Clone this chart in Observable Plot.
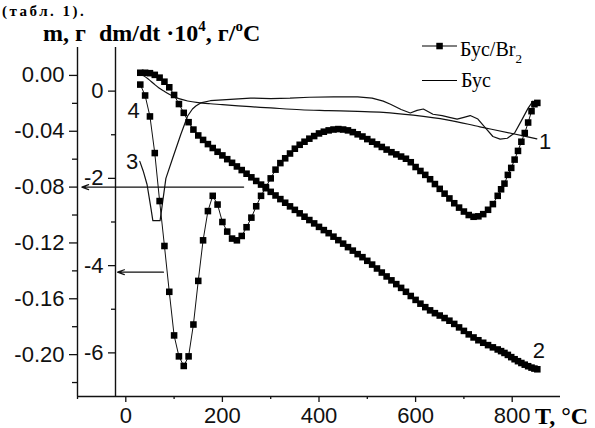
<!DOCTYPE html>
<html><head><meta charset="utf-8">
<script src="https://cdn.jsdelivr.net/npm/d3@7"></script>
<script src="https://cdn.jsdelivr.net/npm/@observablehq/plot@0.6"></script>
<style>
body{margin:0;background:#fff;}
#wrap{position:relative;width:595px;height:428px;overflow:hidden;background:#fff;}
#wrap > svg{position:absolute;left:0;top:0;}
</style></head><body><div id="wrap"></div>
<script>
// Temperature grid (°C) shared by the two Бус/Br2 series (squares)
const T = [30,40,50,60,70,80,90,100,110,120,130,140,150,160,170,180,190,200,210,220,
  230,240,250,260,270,280,290,300,310,320,330,340,350,360,370,380,390,400,410,420,
  430,440,450,460,470,480,490,500,510,520,530,540,550,560,570,580,590,600,610,620,
  630,640,650,660,670,680,690,700,710,720,730,740,750,760,770,
  777,784,791,798,805,812,819,826,833,840,846,852];
// Curve 2: mass m (g), Бус/Br2
const m2 = [0.0019,0.0019,0.0016,0.0004,-0.0016,-0.0045,-0.0085,-0.0140,-0.0205,-0.0268,
  -0.0335,-0.0388,-0.0430,-0.0462,-0.0492,-0.0520,-0.0547,-0.0573,-0.0600,-0.0626,
  -0.0652,-0.0678,-0.0704,-0.0730,-0.0756,-0.0782,-0.0808,-0.0834,-0.0860,-0.0886,
  -0.0912,-0.0938,-0.0963,-0.0988,-0.1012,-0.1036,-0.1060,-0.1085,-0.1108,-0.1130,
  -0.1155,-0.1180,-0.1205,-0.1230,-0.1255,-0.1280,-0.1302,-0.1328,-0.1355,-0.1383,
  -0.1412,-0.1440,-0.1468,-0.1495,-0.1522,-0.1550,-0.1580,-0.1608,-0.1635,-0.1660,
  -0.1683,-0.1703,-0.1720,-0.1738,-0.1757,-0.1780,-0.1805,-0.1830,-0.1855,-0.1877,
  -0.1897,-0.1915,-0.1932,-0.1948,-0.1963,
  -0.1975,-0.1988,-0.2002,-0.2018,-0.2033,-0.2047,-0.2060,-0.2072,-0.2083,-0.2093,-0.2100,-0.2105];
// Curve 4: dm/dt·10^4 (g/°C), Бус/Br2
const d4 = [0.15,-0.10,-0.58,-1.42,-2.52,-3.55,-4.60,-5.60,-6.08,-6.30,
  -6.08,-5.35,-4.35,-3.42,-2.75,-2.40,-2.60,-3.00,-3.22,-3.38,
  -3.42,-3.32,-3.12,-2.90,-2.64,-2.40,-2.20,-2.00,-1.80,-1.65,
  -1.54,-1.43,-1.32,-1.23,-1.16,-1.09,-1.03,-0.97,-0.93,-0.90,
  -0.88,-0.87,-0.88,-0.90,-0.94,-0.99,-1.04,-1.10,-1.16,-1.22,
  -1.28,-1.34,-1.40,-1.45,-1.50,-1.55,-1.63,-1.74,-1.83,-1.92,
  -2.02,-2.13,-2.24,-2.35,-2.46,-2.57,-2.67,-2.76,-2.84,-2.88,
  -2.87,-2.82,-2.72,-2.59,-2.40,
  -2.25,-2.12,-1.92,-1.76,-1.57,-1.37,-1.16,-0.96,-0.72,-0.46,-0.30,-0.27];
// Curve 1: mass m (g), Бус
const T1 = [28,37,48,58,68,79,89,99,110,128,150,175,200,258,300,362,420,480,533,595,665,733,802,851];
const m1 = [0.0012,-0.0002,-0.0030,-0.0060,-0.0088,-0.0112,-0.0133,-0.0152,-0.0166,-0.0183,-0.0195,-0.0203,-0.0209,-0.0224,-0.0233,-0.0246,-0.0252,-0.0258,-0.0265,-0.0285,-0.0318,-0.0368,-0.0418,-0.0454];
// Curve 3: dm/dt·10^4 (g/°C), Бус
const T3 = [29,36,44,52,56,71,83,97,114,128,138,145,155,175,200,258,300,340,380,430,480,510,533,548,570,589,603,616,636,655,670,686,700,713,729,745,760,775,790,805,818,833,843];
const d3v = [-1.61,-1.83,-2.14,-2.68,-2.97,-2.97,-2.00,-1.54,-0.99,-0.57,-0.41,-0.34,-0.27,-0.22,-0.20,-0.16,-0.17,-0.16,-0.14,-0.13,-0.13,-0.16,-0.23,-0.30,-0.42,-0.50,-0.44,-0.41,-0.53,-0.56,-0.60,-0.64,-0.60,-0.56,-0.64,-0.85,-1.04,-1.10,-1.08,-0.96,-0.70,-0.39,-0.23];

// axis ticks
const xTicks = [0,200,400,600,800];
const xMinor = [-100,100,300,500,700];
const mTicks = [0,-0.04,-0.08,-0.12,-0.16,-0.20];
const mMinor = [-0.02,-0.06,-0.10,-0.14,-0.18,-0.22];
const dTicks = [0,-2,-4,-6];
const dMinor = [-1,-3,-5];
const xDomain = [-100, 900];
const mDomain = [-0.23, 0.02];
const dDomain = [-7, 1];

// annotations
const curveLabels = [
  {T: 16, v: -0.0253, s: "4"},
  {T: 13, v: -0.0619, s: "3"},
  {T: 868, v: -0.0476, s: "1"},
  {T: 855, v: -0.1973, s: "2"}
];
const arrowsM = [{x1: 244, x2: -91, v: -0.08}];
const arrowsD = [{x1: 78, x2: -17, v: -4.15}];

// map dm/dt onto the mass axis
const toM = d => mDomain[0] + (d - dDomain[0]) * (mDomain[1] - mDomain[0]) / (dDomain[1] - dDomain[0]);
const fromM = m => dDomain[0] + (m - mDomain[0]) * (dDomain[1] - dDomain[0]) / (mDomain[1] - mDomain[0]);

const s2 = T.map((t, i) => ({T: t, v: m2[i]}));
const s4 = T.map((t, i) => ({T: t, v: toM(d4[i])}));
const s1 = T1.map((t, i) => ({T: t, v: m1[i]}));
const s3 = T3.map((t, i) => ({T: t, v: toM(d3v[i])}));
const arrows = [
  ...arrowsM.map(a => ({x1: a.x1, x2: a.x2, y: a.v})),
  ...arrowsD.map(a => ({x1: a.x1, x2: a.x2, y: toM(a.v)}))
];

const ink = "#111";
const chart = Plot.plot({
  width: 595, height: 428,
  marginLeft: 77, marginRight: 35, marginTop: 47, marginBottom: 32,
  style: {fontFamily: "'Liberation Sans', Arial, sans-serif", fontSize: "22px", color: ink, background: "transparent"},
  x: {domain: xDomain},
  y: {domain: mDomain},
  marks: [
    Plot.axisX({ticks: xTicks, tickSize: 6, tickPadding: 5, fontSize: 22, label: null, tickFormat: d => String(d), strokeWidth: 1.3}),
    Plot.axisX({ticks: xMinor, tickSize: 3, fill: "none", label: null, strokeWidth: 1.3}),
    Plot.axisY({ticks: mTicks, tickSize: 8, tickPadding: 5, fontSize: 22, tickFormat: d => d.toFixed(2), label: null, strokeWidth: 1.3}),
    Plot.axisY({ticks: mMinor, tickSize: 5, fill: "none", label: null, strokeWidth: 1.3}),
    Plot.axisY({ticks: dTicks.map(toM), dx: 38, tickSize: 7, tickPadding: 5, fontSize: 22, tickFormat: v => String(Math.round(fromM(v))), label: null, strokeWidth: 1.3}),
    Plot.axisY({ticks: dMinor.map(toM), dx: 38, tickSize: 4, fill: "none", label: null, strokeWidth: 1.3}),
    Plot.ruleX([xDomain[0]], {stroke: ink, strokeWidth: 1.4}),
    Plot.ruleX([xDomain[0]], {dx: 38, stroke: ink, strokeWidth: 1.4}),
    Plot.ruleY([mDomain[0]], {stroke: ink, strokeWidth: 1.4}),
    Plot.line(s1, {x: "T", y: "v", stroke: ink, strokeWidth: 1.2, curve: "catmull-rom"}),
    Plot.line(s3, {x: "T", y: "v", stroke: ink, strokeWidth: 1.2}),
    Plot.line(s2, {x: "T", y: "v", stroke: ink, strokeWidth: 1}),
    Plot.line(s4, {x: "T", y: "v", stroke: ink, strokeWidth: 1}),
    Plot.dot(s2, {x: "T", y: "v", symbol: "square", r: 3.7, fill: "#000", stroke: null}),
    Plot.dot(s4, {x: "T", y: "v", symbol: "square", r: 3.7, fill: "#000", stroke: null}),
    Plot.arrow(arrows, {x1: "x1", x2: "x2", y1: "y", y2: "y", stroke: ink, strokeWidth: 1.2, headLength: 9, headAngle: 40}),
    Plot.text(curveLabels, {x: "T", y: "v", text: "s", fontSize: 22, fill: ink})
  ]
});
document.getElementById("wrap").appendChild(chart);

// overlay: title, legend and axis name
const ns = "http://www.w3.org/2000/svg";
const ov = document.createElementNS(ns, "svg");
ov.setAttribute("width", 595); ov.setAttribute("height", 428);
ov.style.pointerEvents = "none";
ov.innerHTML = `
<g font-family="'Liberation Serif','Times New Roman',serif" fill="#000">
  <text x="2" y="16" font-size="15" font-weight="bold" letter-spacing="2.5">(табл. 1).</text>
  <text x="43" y="41" font-size="24" font-weight="bold">m, г</text>
  <text x="99" y="41" font-size="24" font-weight="bold">dm/dt ·10<tspan dy="-10" font-size="15">4</tspan><tspan dy="10">, г/</tspan><tspan dy="-10" font-size="15">o</tspan><tspan dy="10">C</tspan></text>
  <line x1="422" x2="457" y1="46" y2="46" stroke="#000" stroke-width="1.2"/>
  <rect x="436.3" y="42.8" width="6.5" height="6.5"/>
  <text x="460" y="56" font-size="20">Бус/Br<tspan dy="7" font-size="13">2</tspan></text>
  <line x1="422" x2="457" y1="80.5" y2="80.5" stroke="#000" stroke-width="1.2"/>
  <text x="461" y="87" font-size="20">Бус</text>
  <text x="535" y="424" font-size="24" font-weight="bold">T, °C</text>
</g>`;
document.getElementById("wrap").appendChild(ov);
</script>
</body></html>
